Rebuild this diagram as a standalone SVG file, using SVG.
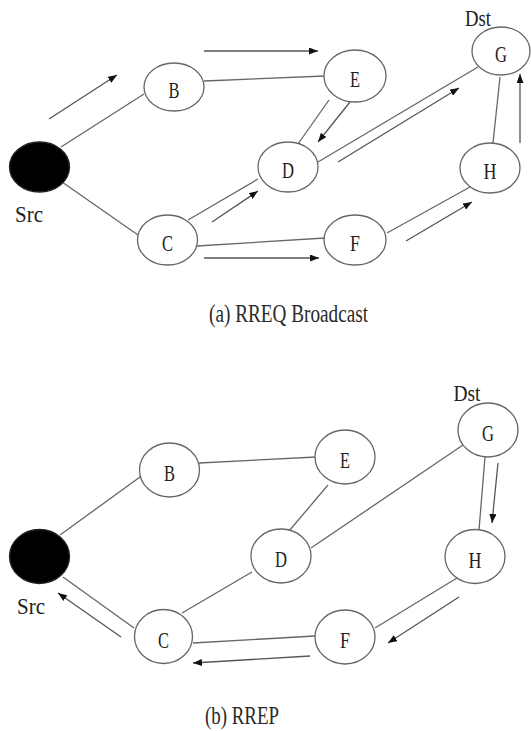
<svg xmlns="http://www.w3.org/2000/svg" width="531" height="731" viewBox="0 0 531 731">
<style>
.node ellipse{fill:#fff;stroke:#666;stroke-width:1.3}
.node ellipse.src{fill:#000;stroke:#222}
.lbl{font-family:"Liberation Serif",serif;font-size:24px;fill:#222;text-anchor:middle}
.cap{font-family:"Liberation Serif",serif;font-size:25px;fill:#2a2a2a}
.edge line{stroke:#666;stroke-width:1.3}
.edge line.arr{stroke:#555;stroke-width:1.3;marker-end:url(#ah)}
</style>
<defs>
<marker id="ah" markerUnits="userSpaceOnUse" markerWidth="9" markerHeight="7" refX="9" refY="3.5" orient="auto">
<path d="M0,0 L9,3.5 L0,7 z" fill="#111"/>
</marker>
</defs>
<rect width="531" height="731" fill="#fff"/>

<g id="connectors" class="edge">
<!-- panel a -->
<line x1="61" y1="147" x2="144" y2="94"/>
<line x1="62" y1="182" x2="138" y2="235"/>
<line x1="204" y1="81" x2="325" y2="76"/>
<line x1="329" y1="100" x2="298" y2="144"/>
<line x1="188" y1="220" x2="258" y2="179"/>
<line x1="318" y1="162" x2="478" y2="67"/>
<line x1="197" y1="246" x2="325" y2="238"/>
<line x1="387" y1="233" x2="470" y2="187"/>
<line x1="493" y1="143" x2="500" y2="77"/>
<line class="arr" x1="49" y1="119" x2="117" y2="75"/>
<line class="arr" x1="204" y1="51" x2="318" y2="51"/>
<line class="arr" x1="350" y1="102" x2="318" y2="142"/>
<line class="arr" x1="212" y1="222" x2="258" y2="191"/>
<line class="arr" x1="338" y1="162" x2="459" y2="88"/>
<line class="arr" x1="204" y1="258" x2="319" y2="258"/>
<line class="arr" x1="406" y1="241" x2="472" y2="202"/>
<line class="arr" x1="520" y1="143" x2="520" y2="74"/>
<!-- panel b -->
<line x1="60" y1="535" x2="140" y2="477"/>
<line x1="63" y1="577" x2="134" y2="628"/>
<line x1="199" y1="463" x2="316" y2="457"/>
<line x1="328" y1="485" x2="289" y2="531"/>
<line x1="182" y1="613" x2="252" y2="572"/>
<line x1="311" y1="548" x2="463" y2="445"/>
<line x1="193" y1="643" x2="315" y2="636"/>
<line x1="457" y1="578" x2="375" y2="628"/>
<line x1="485" y1="457" x2="479" y2="530"/>
<line class="arr" x1="498" y1="463" x2="492" y2="523"/>
<line class="arr" x1="459" y1="597" x2="388" y2="643"/>
<line class="arr" x1="310" y1="656" x2="193" y2="663"/>
<line class="arr" x1="121" y1="637" x2="58" y2="593"/>
</g>

<!-- panel a nodes -->
<g id="a-Src" class="node"><ellipse class="src" cx="39.5" cy="167" rx="30" ry="25"/><text class="lbl" x="29" y="222" textLength="28" lengthAdjust="spacingAndGlyphs">Src</text></g>
<g id="a-B" class="node"><ellipse cx="174" cy="87" rx="30" ry="24"/><text class="lbl" x="174" y="98" textLength="11" lengthAdjust="spacingAndGlyphs">B</text></g>
<g id="a-C" class="node"><ellipse cx="167.5" cy="240" rx="30" ry="25"/><text class="lbl" x="167.5" y="251" textLength="11" lengthAdjust="spacingAndGlyphs">C</text></g>
<g id="a-D" class="node"><ellipse cx="288" cy="167" rx="30" ry="25"/><text class="lbl" x="288" y="178" textLength="12" lengthAdjust="spacingAndGlyphs">D</text></g>
<g id="a-E" class="node"><ellipse cx="355" cy="76" rx="31" ry="26"/><text class="lbl" x="355" y="87" textLength="10" lengthAdjust="spacingAndGlyphs">E</text></g>
<g id="a-F" class="node"><ellipse cx="355" cy="240" rx="31" ry="25"/><text class="lbl" x="355" y="251" textLength="10" lengthAdjust="spacingAndGlyphs">F</text></g>
<g id="a-G" class="node"><ellipse cx="501" cy="51" rx="29" ry="24"/><text class="lbl" x="501" y="62" textLength="12" lengthAdjust="spacingAndGlyphs">G</text><text class="lbl" x="478" y="26" textLength="26" lengthAdjust="spacingAndGlyphs">Dst</text></g>
<g id="a-H" class="node"><ellipse cx="490" cy="168" rx="30" ry="25"/><text class="lbl" x="490" y="179" textLength="13" lengthAdjust="spacingAndGlyphs">H</text></g>
<text class="cap" x="209" y="322" textLength="159" lengthAdjust="spacingAndGlyphs">(a) RREQ Broadcast</text>

<!-- panel b nodes -->
<g id="b-Src" class="node"><ellipse class="src" cx="39.5" cy="556.5" rx="30" ry="27"/><text class="lbl" x="31" y="614" textLength="28" lengthAdjust="spacingAndGlyphs">Src</text></g>
<g id="b-B" class="node"><ellipse cx="169.5" cy="470" rx="30" ry="27"/><text class="lbl" x="169.5" y="481" textLength="11" lengthAdjust="spacingAndGlyphs">B</text></g>
<g id="b-C" class="node"><ellipse cx="163.5" cy="636.5" rx="29" ry="27"/><text class="lbl" x="163.5" y="648" textLength="11" lengthAdjust="spacingAndGlyphs">C</text></g>
<g id="b-D" class="node"><ellipse cx="281" cy="556" rx="30" ry="27"/><text class="lbl" x="281" y="567" textLength="12" lengthAdjust="spacingAndGlyphs">D</text></g>
<g id="b-E" class="node"><ellipse cx="345" cy="457" rx="30" ry="27"/><text class="lbl" x="345" y="468" textLength="10" lengthAdjust="spacingAndGlyphs">E</text></g>
<g id="b-F" class="node"><ellipse cx="345" cy="637" rx="30" ry="27"/><text class="lbl" x="345" y="648" textLength="10" lengthAdjust="spacingAndGlyphs">F</text></g>
<g id="b-G" class="node"><ellipse cx="488" cy="430" rx="30" ry="27"/><text class="lbl" x="488" y="441" textLength="12" lengthAdjust="spacingAndGlyphs">G</text><text class="lbl" x="467" y="401" textLength="27" lengthAdjust="spacingAndGlyphs">Dst</text></g>
<g id="b-H" class="node"><ellipse cx="475" cy="556.5" rx="30" ry="27"/><text class="lbl" x="475" y="568" textLength="13" lengthAdjust="spacingAndGlyphs">H</text></g>
<text class="cap" x="205" y="724" textLength="74" lengthAdjust="spacingAndGlyphs">(b) RREP</text>
</svg>
